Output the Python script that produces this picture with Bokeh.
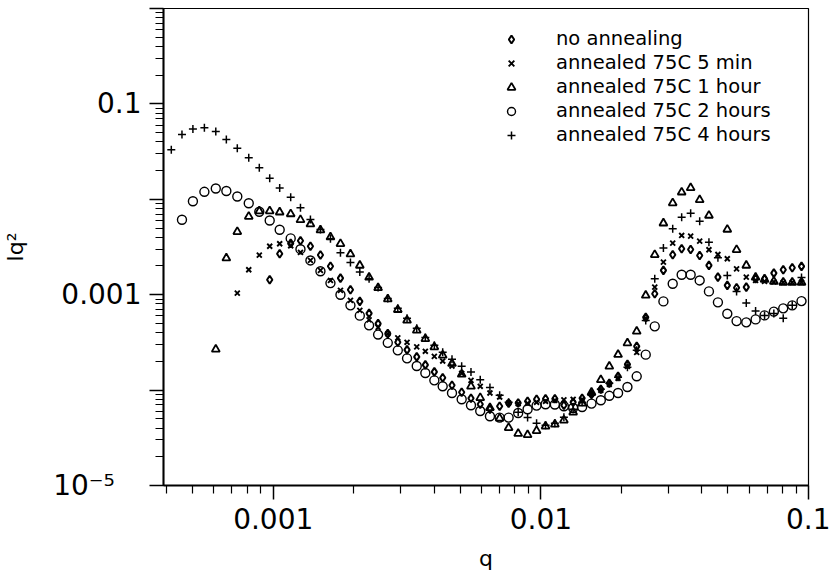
import numpy as np
from bokeh.plotting import figure
from bokeh.models import FixedTicker, Legend, LegendItem, Range1d
from bokeh.embed import file_html
from bokeh.resources import INLINE

# common q grid (binned scattering vector)
q_grid = [4.16e-4, 4.56e-4, 5.01e-4, 5.53e-4, 6.10e-4, 6.68e-4, 7.34e-4, 8.10e-4, 8.87e-4, 9.70e-4,
          1.057e-3, 1.162e-3, 1.264e-3, 1.377e-3, 1.501e-3, 1.636e-3, 1.783e-3, 1.943e-3, 2.106e-3, 2.281e-3,
          2.465e-3, 2.679e-3, 2.920e-3, 3.162e-3, 3.437e-3, 3.701e-3, 3.999e-3, 4.297e-3, 4.655e-3, 5.059e-3,
          5.481e-3, 5.935e-3, 6.452e-3, 7.014e-3, 7.578e-3, 8.227e-3, 8.920e-3, 9.638e-3, 1.041e-2, 1.128e-2,
          1.219e-2, 1.320e-2, 1.426e-2, 1.546e-2, 1.675e-2, 1.802e-2, 1.943e-2, 2.106e-2, 2.281e-2, 2.465e-2,
          2.664e-2, 2.870e-2, 3.109e-2, 3.358e-2, 3.628e-2, 3.921e-2, 4.246e-2, 4.587e-2, 4.973e-2, 5.386e-2,
          5.855e-2, 6.343e-2, 6.852e-2, 7.422e-2, 8.046e-2, 8.695e-2, 9.417e-2]

# first grid index of each series
start_none, start_5min, start_1h, start_2h, start_4h = 9, 6, 4, 1, 0

iq2_none = [1.436e-3, 2.687e-3, 3.45e-3, 3.68e-3, 3.22e-3, 2.61e-3, 1.988e-3, 1.492e-3, 1.128e-3, 8.51e-4,
            6.37e-4, 4.97e-4, 3.91e-4, 3.17e-4, 2.642e-4, 2.232e-4, 1.840e-4, 1.554e-4, 1.345e-4, 1.123e-4,
            9.48e-5, 8.21e-5, 7.10e-5, 6.30e-5, 6.77e-5, 7.27e-5, 7.33e-5, 7.63e-5, 8.01e-5, 8.11e-5,
            8.11e-5, 6.93e-5, 7.45e-5, 8.21e-5, 9.04e-5, 1.019e-4, 1.178e-4, 1.395e-4, 1.863e-4, 2.874e-4,
            5.79e-4, 1.024e-3, 1.797e-3, 2.624e-3, 3.03e-3, 2.98e-3, 2.579e-3, 2.027e-3, 1.529e-3, 1.251e-3,
            1.184e-3, 1.201e-3, 1.470e-3, 1.470e-3, 1.684e-3, 1.827e-3, 1.917e-3, 1.979e-3]

iq2_5min = [1.039e-3, 1.827e-3, 2.598e-3, 3.22e-3, 3.42e-3, 3.26e-3, 2.773e-3, 2.287e-3, 1.797e-3, 1.411e-3,
            1.109e-3, 8.71e-4, 6.85e-4, 5.45e-4, 4.55e-4, 3.89e-4, 3.53e-4, 3.17e-4, 2.84e-4, 2.55e-4,
            2.259e-4, 2.017e-4, 1.788e-4, 1.499e-4, 1.266e-4, 1.096e-4, 9.32e-5, 8.47e-5, 7.33e-5, 7.22e-5,
            7.27e-5, 7.45e-5, 7.63e-5, 7.82e-5, 7.91e-5, 8.01e-5, 8.01e-5, 9.04e-5, 9.95e-5, 1.150e-4,
            1.329e-4, 1.775e-4, 2.488e-4, 5.65e-4, 1.201e-3, 2.194e-3, 3.47e-3, 4.18e-3, 4.11e-3, 3.64e-3,
            2.96e-3, 2.642e-3, 2.382e-3, 1.863e-3, 1.529e-3, 1.411e-3, 1.378e-3, 1.361e-3, 1.345e-3, 1.345e-3,
            1.345e-3]

nan = float("nan")
iq2_1h = [2.675e-4, 2.416e-3, 4.57e-3, 6.60e-3, 7.51e-3, 7.54e-3, 7.33e-3, 7.02e-3, 6.10e-3, 5.49e-3,
          4.75e-3, 4.01e-3, 3.42e-3, 2.662e-3, 2.027e-3, 1.518e-3, 1.178e-3, 8.99e-4, 6.96e-4, 5.38e-4,
          4.23e-4, 3.45e-4, 2.83e-4, 2.314e-4, 1.894e-4, 1.463e-4, 1.096e-4, 8.31e-5, 6.53e-5, 5.07e-5,
          4.03e-5, 3.50e-5, 3.40e-5, 3.75e-5, 4.18e-5, 4.38e-5, 4.83e-5, 5.86e-5, 7.27e-5, 9.48e-5,
          1.282e-4, 1.775e-4, 2.353e-4, 3.11e-4, 4.13e-4, 9.83e-4, 2.624e-3, 5.62e-3, 9.15e-3, 1.187e-2,
          1.319e-2, 9.88e-3, 6.77e-3, nan, 4.83e-3, 2.96e-3, 2.027e-3, 1.518e-3, 1.446e-3, 1.378e-3,
          1.345e-3, 1.345e-3, 1.345e-3]

iq2_2h = [6.10e-3, 9.55e-3, 1.198e-2, 1.297e-2, 1.221e-2, 1.070e-2, 9.10e-3, 7.40e-3, 6.00e-3, 4.80e-3,
          3.89e-3, 3.00e-3, 2.287e-3, 1.763e-3, 1.323e-3, 1.0e-3, 7.73e-4, 6.03e-4, 4.77e-4, 3.82e-4,
          3.13e-4, 2.61e-4, 2.153e-4, 1.788e-4, 1.511e-4, 1.266e-4, 1.096e-4, 9.32e-5, 8.01e-5, 6.93e-5,
          6.04e-5, 5.32e-5, 5.15e-5, 5.15e-5, 5.76e-5, 6.30e-5, 6.88e-5, 7.10e-5, 7.06e-5, 6.77e-5,
          6.49e-5, 6.65e-5, 7.22e-5, 7.82e-5, 8.71e-5, 9.32e-5, 1.078e-4, 1.395e-4, 2.353e-4, 4.66e-4,
          8.51e-4, 1.304e-3, 1.620e-3, 1.620e-3, 1.411e-3, 1.083e-3, 8.31e-4, 6.32e-4, 5.29e-4, 5.13e-4,
          5.51e-4, 6.07e-4, 6.64e-4, 7.19e-4, 7.73e-4, 8.57e-4]

iq2_4h = [3.30e-2, 4.77e-2, 5.47e-2, 5.61e-2, 5.13e-2, 4.23e-2, 3.43e-2, 2.72e-2, 2.137e-2, 1.663e-2,
          1.313e-2, 1.052e-2, 8.15e-3, 6.14e-3, 4.83e-3, 3.86e-3, 2.754e-3, 2.179e-3, 1.732e-3, 1.470e-3,
          1.192e-3, 9.15e-4, 7.19e-4, 5.65e-4, 4.44e-4, 3.57e-4, 2.945e-4, 2.488e-4, 2.101e-4, 1.775e-4,
          1.547e-4, 1.282e-4, 1.062e-4, 8.82e-5, 7.45e-5, 5.86e-5, 5.15e-5, 4.49e-5, 4.28e-5, 4.49e-5,
          5.19e-5, 6.30e-5, 7.45e-5, 8.82e-5, 1.019e-4, 1.178e-4, 1.361e-4, 1.732e-4, 2.61e-4, 5.38e-4,
          1.470e-3, 3.08e-3, 4.91e-3, 6.49e-3, 7.15e-3, 5.90e-3, 3.55e-3, 2.44e-3, 1.593e-3, 1.083e-3,
          8.17e-4, 6.73e-4, 6.07e-4, 6.37e-4, 5.65e-4, 7.73e-4, 1.518e-3]

labels = ["no annealing", "annealed 75C 5 min", "annealed 75C 1 hour",
          "annealed 75C 2 hours", "annealed 75C 4 hours"]

x_tick_values = [1e-3, 1e-2, 1e-1]
x_tick_labels = ["0.001", "0.01", "0.1"]
y_tick_values = [1e-5, 1e-4, 1e-3, 1e-2, 1e-1, 1.0]
y_tick_labels = ["10\u207b\u2075\u00a0\u00a0\u00a0", "", "0.001", "", "0.1", ""]

FONT = "DejaVu Sans"

p = figure(width=830, height=575, x_axis_type="log", y_axis_type="log",
           x_range=Range1d(3.89e-4, 0.1), y_range=Range1d(1e-5, 1.0),
           output_backend="svg", toolbar_location=None,
           min_border_left=162, min_border_right=22, min_border_top=8, min_border_bottom=90)
p.xgrid.visible = False
p.ygrid.visible = False
p.outline_line_color = "black"
p.outline_line_width = 1.2
p.background_fill_color = "white"
p.border_fill_color = "white"

minor = [m * 10.0 ** e for e in range(-6, 1) for m in range(2, 10)]
p.xaxis.ticker = FixedTicker(ticks=x_tick_values, minor_ticks=minor)
p.yaxis.ticker = FixedTicker(ticks=y_tick_values, minor_ticks=minor)
p.xaxis.major_label_overrides = dict(zip(x_tick_values, x_tick_labels))
p.yaxis.major_label_overrides = dict(zip(y_tick_values, y_tick_labels))

for ax in (p.xaxis, p.yaxis):
    ax.axis_line_width = 2
    ax.axis_line_color = "black"
    ax.major_tick_line_width = 1.5
    ax.minor_tick_line_width = 1.2
    ax.major_tick_out = 14
    ax.major_tick_in = 0
    ax.minor_tick_out = 8
    ax.minor_tick_in = 0
    ax.major_label_text_font = FONT
    ax.major_label_text_font_size = "28px"
    ax.major_label_text_color = "black"
    ax.axis_label_text_font = FONT
    ax.axis_label_text_font_style = "normal"
    ax.axis_label_text_font_size = "22px"
    ax.axis_label_text_color = "black"

p.xaxis.axis_label = "q"
p.yaxis.axis_label = "Iq\u00b2"
p.xaxis.major_label_standoff = 8
p.xaxis.axis_label_standoff = 14
p.yaxis.major_label_standoff = 8
p.yaxis.axis_label_standoff = 22

def draw(start, vals, marker, size, lw):
    q = np.array(q_grid[start:start + len(vals)])
    y = np.array(vals, dtype=float)
    m = ~np.isnan(y)
    return p.scatter(q[m], y[m], marker=marker, size=size, line_color="black",
                     fill_color=None, line_width=lw)

r0 = draw(start_none, iq2_none, "diamond", 8, 2.0)
r1 = draw(start_5min, iq2_5min, "x", 7, 1.9)
r2 = draw(start_1h, iq2_1h, "triangle", 8, 1.8)
r3 = draw(start_2h, iq2_2h, "circle", 9, 1.4)
r4 = draw(start_4h, iq2_4h, "cross", 8, 1.5)

legend = Legend(items=[LegendItem(label=l, renderers=[r]) for l, r in zip(labels, [r0, r1, r2, r3, r4])],
                location=(338, 339), padding=0, margin=0, spacing=1,
                glyph_width=20, glyph_height=22, label_height=22, label_standoff=35,
                border_line_color=None, background_fill_alpha=0,
                label_text_font=FONT, label_text_font_size="19.5px", label_text_color="black")
p.add_layout(legend)

open("out.html", "w").write(file_html(p, INLINE))
